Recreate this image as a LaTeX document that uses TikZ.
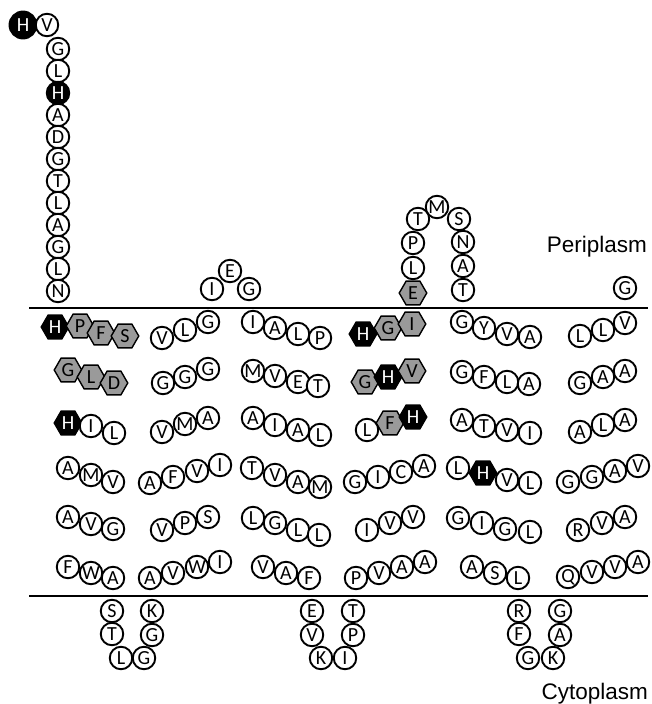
\documentclass[tikz,border=0pt]{standalone}
\usepackage{fontspec}
\setmainfont{Liberation Sans}
\newfontfamily\resfam{Carlito}
\usetikzlibrary{shapes.geometric}
\definecolor{hxG}{HTML}{9A9A9A}
\tikzset{
  R/.style={draw, circle, line width=1.9pt, fill=white, minimum size=22.5pt,
    inner sep=0pt, font=\resfam\fontsize{20}{20}\selectfont},
  Rk/.style={R, fill=black, text=white},
  % hexagon residues (flat top, pointed sides)
  Hg/.style={draw, regular polygon, regular polygon sides=6, line width=1.4pt,
    fill=hxG, minimum size=27.5pt, inner sep=0pt,
    font=\resfam\fontsize{20}{20}\selectfont},
  Hk/.style={Hg, fill=black, text=white},
  mem/.style={line width=2.2pt},
  lab/.style={font=\fontsize{22.5}{22.5}\selectfont, inner sep=0pt},
}

\begin{document}
\begin{tikzpicture}[x=1pt, y=-1pt]
\useasboundingbox (0,0) rectangle (651,704);

% ── MEMBRANE ─────────────────────────────────────────────────────────
\coordinate (pL) at (29,308);
\coordinate (pR) at (648,308);
\coordinate (cL) at (29,596);
\coordinate (cR) at (648,596);
\draw[mem] (pL) -- (pR);
\draw[mem] (cL) -- (cR);

\node[lab, anchor=base east] (peri) at (647,252) {Periplasm};
\node[lab, anchor=base east] (cyto) at (648,699) {Cytoplasm};

% ── N-TERMINAL STRAND ────────────────────────────────────────────────
\node[Rk, minimum size=27pt] (nt0) at (23,25) {H};
\foreach \s/\res/\x/\y [count=\i] in {R/V/47/25, R/G/58/49, R/L/58/71,
    Rk/H/58/93, R/A/58/115, R/D/58/137, R/G/58/159, R/T/58/181, R/L/58/203,
    R/A/58/225, R/G/58/247, R/L/58/269, R/N/58/291}
  \node[\s] (nt\i) at (\x,\y) {\res};

% ── PERIPLASMIC LOOPS ────────────────────────────────────────────────
\foreach \res/\x/\y [count=\i] in {I/212/289, E/230/271, G/249/289}
  \node[R] (pa\i) at (\x,\y) {\res};
\node[Hg] (pb0) at (413,293) {E};
\foreach \res/\x/\y [count=\i] in {L/413/268, P/413/243, T/418/219,
    M/437/207, S/459/219, N/463/242, A/463/266, T/463/290}
  \node[R] (pb\i) at (\x,\y) {\res};
\node[R] (pc1) at (625,288) {G};

% ── TRANSMEMBRANE ROWS ───────────────────────────────────────────────
\foreach \s/\res/\x/\y [count=\i] in {Hk/H/55/327, Hg/P/80/326, Hg/F/101/333,
    Hg/S/125/336, R/V/162/338, R/L/185/330, R/G/208/322, R/I/253/322,
    R/A/275/328, R/L/298/334, R/P/320/338, Hk/H/363/334, Hg/G/388/328,
    Hg/I/412/324, R/G/462/322, R/Y/484/328, R/V/507/334, R/A/530/337,
    R/L/580/336, R/L/603/330, R/V/625/323}
  \node[\s] (ma\i) at (\x,\y) {\res};

\foreach \s/\res/\x/\y [count=\i] in {Hg/G/68/370, Hg/L/91/377, Hg/D/114/383,
    R/G/163/383, R/G/185/377, R/G/208/369, R/M/253/371, R/V/275/376,
    R/E/298/382, R/T/318/386, Hg/G/365/382, Hk/H/388/377, Hg/V/412/371,
    R/G/462/372, R/F/484/377, R/L/507/382, R/A/529/384, R/G/580/383,
    R/A/603/377, R/A/625/371}
  \node[\s] (mb\i) at (\x,\y) {\res};

\foreach \s/\res/\x/\y [count=\i] in {Hk/H/68/423, R/I/91/426, R/L/114/433,
    R/V/162/432, R/M/185/424, R/A/208/418, R/A/253/418, R/I/275/425,
    R/A/298/430, R/L/320/435, R/L/367/430, Hg/F/390/423, Hk/H/413/417,
    R/A/462/420, R/T/484/426, R/V/507/430, R/I/530/433, R/A/580/432,
    R/L/603/425, R/A/625/420}
  \node[\s] (mc\i) at (\x,\y) {\res};

\foreach \s/\res/\x/\y [count=\i] in {R/A/68/468, R/M/91/475, R/V/113/482,
    R/A/150/483, R/F/173/477, R/V/197/471, R/I/220/465, R/T/252/468,
    R/V/275/475, R/A/298/482, R/M/320/487, R/G/355/482, R/I/378/477,
    R/C/401/472, R/A/424/466, R/L/458/468, Hk/H/483/473, R/V/507/480,
    R/L/530/483, R/G/568/482, R/G/592/477, R/A/615/471, R/V/638/466}
  \node[\s] (md\i) at (\x,\y) {\res};

\foreach \res/\x/\y [count=\i] in {A/68/517, V/91/524, G/113/529,
    V/162/530, P/185/523, S/208/517, L/253/518, G/275/523, L/298/530,
    L/319/535, I/367/530, V/390/523, V/413/517, G/458/518, I/482/523,
    G/505/529, L/530/532, R/578/530, V/602/523, A/625/517}
  \node[R] (me\i) at (\x,\y) {\res};

\foreach \res/\x/\y [count=\i] in {F/68/567, W/91/573, A/113/578,
    A/150/578, V/173/573, W/197/567, I/220/562, V/263/567, A/286/573,
    F/309/578, P/356/578, V/379/573, A/402/567, A/425/562, A/472/567,
    S/495/573, L/518/578, Q/568/577, V/592/572, V/615/567, A/638/562}
  \node[R] (mf\i) at (\x,\y) {\res};

% ── CYTOPLASMIC LOOPS ────────────────────────────────────────────────
\foreach \res/\x/\y [count=\i] in {S/112/611, T/112/634, L/121/658,
    G/144/658, G/152/635, K/152/611}
  \node[R] (ca\i) at (\x,\y) {\res};
\foreach \res/\x/\y [count=\i] in {E/312/611, V/312/635, K/321/658,
    I/345/658, P/353/635, T/353/611}
  \node[R] (cb\i) at (\x,\y) {\res};
\foreach \res/\x/\y [count=\i] in {R/519/611, F/519/634, G/528/658,
    K/553/658, A/560/635, G/560/611}
  \node[R] (cc\i) at (\x,\y) {\res};

\end{tikzpicture}
\end{document}
